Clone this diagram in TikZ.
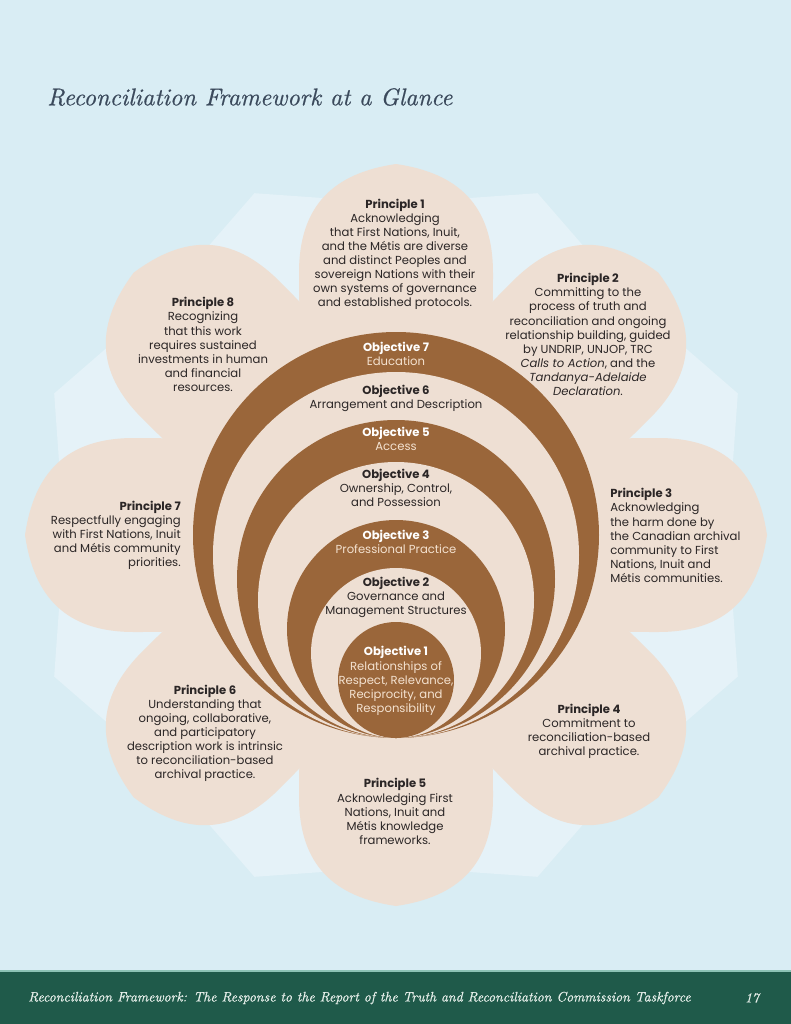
\documentclass[tikz,border=0pt]{standalone}
\usepackage{fontspec}
\newfontfamily\poppins{Poppins}
\newfontfamily\serifit{lmroman10-italic.otf}[FakeBold=0.6]
\usepackage{tikz}
\usetikzlibrary{positioning}
\definecolor{pagebg}{HTML}{D9EDF4}
\definecolor{petalblue}{HTML}{E5F2F8}
\definecolor{petalsand}{HTML}{EEDFD3}
\definecolor{ringbrown}{HTML}{9A663A}
\definecolor{inktext}{HTML}{2B2626}
\definecolor{creamtext}{HTML}{F4E2D0}
\definecolor{titleink}{HTML}{3B4A5C}
\definecolor{footgreen}{HTML}{1F5A4A}
\definecolor{footline}{HTML}{8CC2B5}
\definecolor{footink}{HTML}{E6EFEA}
\tikzstyle{principle} = [font=\poppins\fontsize{9}{10.9}\selectfont, text=inktext, align=center, inner sep=0pt]
\tikzstyle{objlight} = [principle, text=creamtext]
\tikzset{
  sandpetal/.pic={\fill[petalsand] (0,0) .. controls (-97,-100) and (-97,-200) .. (-97,-262)
      .. controls (-97,-330) and (-62,-362) .. (0,-371)
      .. controls (62,-362) and (97,-330) .. (97,-262)
      .. controls (97,-200) and (97,-100) .. (0,0) -- cycle;},
  bluepetal/.pic={\fill[petalblue] (0,0) -- (-150,-200) -- (-140,-300) -- (0,-370)
      -- (140,-300) -- (150,-200) -- cycle;}
}
\begin{document}
\begin{tikzpicture}[x=0.7737pt, y=-0.7737pt,
    head/.style = {font=\bfseries}]
    \useasboundingbox (0,0) rectangle (791,1024);
    \fill[pagebg] (0,0) rectangle (791,1024);
    \coordinate (c) at (396,535);
    % light petals behind
    \pic[rotate=-22.5] at (c) {bluepetal};
    \pic[rotate=-67.5] at (c) {bluepetal};
    \pic[rotate=-112.5] at (c) {bluepetal};
    \pic[rotate=-157.5] at (c) {bluepetal};
    \pic[rotate=-202.5] at (c) {bluepetal};
    \pic[rotate=-247.5] at (c) {bluepetal};
    \pic[rotate=-292.5] at (c) {bluepetal};
    \pic[rotate=-337.5] at (c) {bluepetal};
    % principle petals
    \pic[rotate=0] at (c) {sandpetal};
    \pic[rotate=-45] at (c) {sandpetal};
    \pic[rotate=-90] at (c) {sandpetal};
    \pic[rotate=-135] at (c) {sandpetal};
    \pic[rotate=-180] at (c) {sandpetal};
    \pic[rotate=-225] at (c) {sandpetal};
    \pic[rotate=-270] at (c) {sandpetal};
    \pic[rotate=-315] at (c) {sandpetal};
    % objective rings, all touching at the bottom
    \fill[ringbrown] (396,535) circle (203);
    \fill[petalsand] (396,555) circle (183);
    \fill[ringbrown] (396,579) circle (159);
    \fill[petalsand] (396,600) circle (138);
    \fill[ringbrown] (396,629) circle (109);
    \fill[petalsand] (396,653) circle (85);
    \fill[ringbrown] (396,680) circle (58);

    \node (title) [anchor=west, inner sep=0pt, text=titleink, font=\serifit\fontsize{18.8}{24}\selectfont]
        at (47,97) {Reconciliation Framework at a Glance};

    \node (p1) [principle] at (395,254.5) {\textbf{Principle 1}\\Acknowledging\\that First Nations, Inuit,\\and the Métis are diverse\\and distinct Peoples and\\sovereign Nations with their\\own systems of governance\\and established protocols.};
    \node (p2) [principle] at (588,334.5) {\textbf{Principle 2}\\Committing to the\\process of truth and\\reconciliation and ongoing\\relationship building, guided\\by UNDRIP, UNJOP, TRC\\\textit{Calls to Action}, and the\\\textit{Tandanya-Adelaide}\\\textit{Declaration}.};
    \node (p3) [principle, align=left, anchor=west] at (610,535.5) {\textbf{Principle 3}\\Acknowledging\\the harm done by\\the Canadian archival\\community to First\\Nations, Inuit and\\Métis communities.};
    \node (p4) [principle] at (589,731) {\textbf{Principle 4}\\Commitment to\\reconciliation-based\\archival practice.};
    \node (p5) [principle] at (395,811.5) {\textbf{Principle 5}\\Acknowledging First\\Nations, Inuit and\\Métis knowledge\\frameworks.};
    \node (p6) [principle] at (205,733.5) {\textbf{Principle 6}\\Understanding that\\ongoing, collaborative,\\and participatory\\description work is intrinsic\\to reconciliation-based\\archival practice.};
    \node (p7) [principle, align=right, anchor=east] at (181,535.5) {\textbf{Principle 7}\\Respectfully engaging\\with First Nations, Inuit\\and Métis community\\priorities.};
    \node (p8) [principle] at (203,344.5) {\textbf{Principle 8}\\Recognizing\\that this work\\requires sustained\\investments in human\\and financial\\resources.};

    \node (o7) [objlight] at (396,354) {\textcolor{white}{\textbf{Objective 7}}\\Education};
    \node (o6) [principle] at (396,398) {\textbf{Objective 6}\\Arrangement and Description};
    \node (o5) [objlight] at (396,439) {\textcolor{white}{\textbf{Objective 5}}\\Access};
    \node (o4) [principle] at (396,488) {\textbf{Objective 4}\\Ownership, Control,\\and Possession};
    \node (o3) [objlight] at (396,542) {\textcolor{white}{\textbf{Objective 3}}\\Professional Practice};
    \node (o2) [principle] at (396,597) {\textbf{Objective 2}\\Governance and\\Management Structures};
    \node (o1) [objlight] at (396,681) {\textcolor{white}{\textbf{Objective 1}}\\Relationships of\\Respect, Relevance,\\Reciprocity, and\\Responsibility};

    % footer band
    \fill[footgreen] (0,971) rectangle (791,1024);
    \draw[footline, line width=1pt] (0,971) -- (791,971);
    \node (foot) [anchor=west, inner sep=0pt, text=footink, font=\serifit\fontsize{10.6}{13}\selectfont]
        at (28,998) {Reconciliation Framework: The Response to the Report of the Truth and Reconciliation Commission Taskforce};
    \node (page) [inner sep=0pt, text=footink, font=\serifit\fontsize{10.6}{13}\selectfont] at (752,998) {17};
\end{tikzpicture}
\end{document}
